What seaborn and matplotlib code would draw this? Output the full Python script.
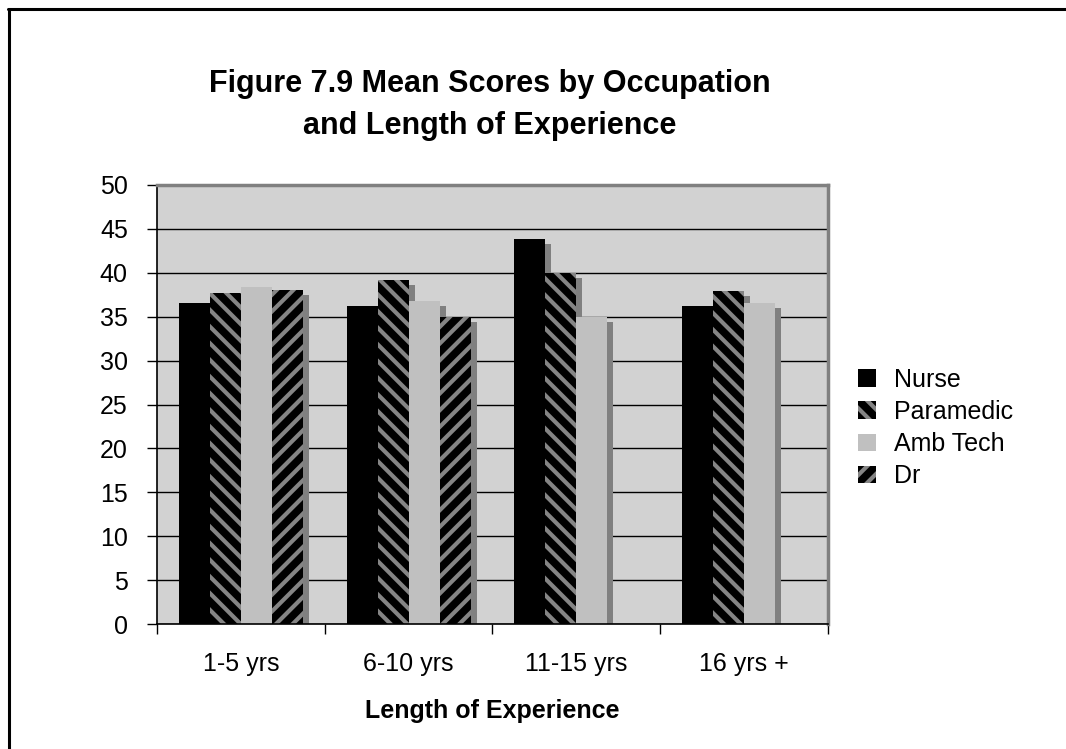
import numpy as np
import pandas as pd
import matplotlib
matplotlib.use("Agg")
import matplotlib.pyplot as plt
import matplotlib.transforms as mtransforms
from matplotlib.patches import Rectangle
from matplotlib.lines import Line2D
import seaborn as sns

categories = ["1-5 yrs", "6-10 yrs", "11-15 yrs", "16 yrs +"]
occupations = ["Nurse", "Paramedic", "Amb Tech", "Dr"]
nurse = [36.6, 36.2, 43.8, 36.2]
paramedic = [37.7, 39.2, 40.0, 37.9]
amb_tech = [38.4, 36.8, 35.0, 36.6]
dr = [38.0, 35.0, np.nan, np.nan]
y_ticks = [0, 5, 10, 15, 20, 25, 30, 35, 40, 45, 50]

rows = []
for occ, vals in zip(occupations, [nurse, paramedic, amb_tech, dr]):
    for cat, v in zip(categories, vals):
        rows.append({"Experience": cat, "Occupation": occ, "Score": v})
df = pd.DataFrame(rows).dropna()

sns.set_theme(style="white")
plt.rcParams["font.family"] = ["Liberation Sans", "DejaVu Sans"]
plt.rcParams["hatch.linewidth"] = 3.0
for k in ["text.color", "axes.labelcolor", "xtick.color", "ytick.color"]:
    plt.rcParams[k] = "black"

fig = plt.figure(figsize=(10.66, 7.49), dpi=100)
ax = fig.add_axes([157 / 1066, 1 - 624 / 749, (828 - 157) / 1066, (624 - 185) / 749])

palette = {"Nurse": "#000000", "Paramedic": "#000000", "Amb Tech": "#c0c0c0", "Dr": "#000000"}
sns.barplot(data=df, x="Experience", y="Score", hue="Occupation",
            order=categories, hue_order=occupations, palette=palette,
            width=0.74, errorbar=None, legend=False, saturation=1,
            linewidth=0, ax=ax)

ax.set_facecolor("#d2d2d2")
ax.set_ylim(0, 50)
ax.set_xlim(-0.5, len(categories) - 0.5)
ax.set_axisbelow(True)

hatches = {"Paramedic": "\\\\", "Dr": "//"}
shadow_tr = ax.transData + mtransforms.ScaledTranslation(0.06, -0.05, fig.dpi_scale_trans)
handles = []
for occ, cont in zip(occupations, ax.containers):
    for p in cont.patches:
        p.set_zorder(2)
        p.set_linewidth(0)
        if occ in hatches:
            p.set_hatch(hatches[occ])
            p.set_edgecolor("#858585")
        h = p.get_height()
        if np.isfinite(h) and h > 0:
            sh = Rectangle((p.get_x(), p.get_y()), p.get_width(), h,
                           transform=shadow_tr, facecolor="#808080",
                           edgecolor="none", zorder=1)
            ax.add_patch(sh)
    handles.append(cont.patches[0])

ax.yaxis.grid(True, color="#000000", linewidth=1.0, zorder=0)
ax.set_yticks(y_ticks)
ax.set_yticklabels([str(t) for t in y_ticks], fontsize=18)

bounds = np.arange(len(categories) + 1) - 0.5
ax.set_xticks(bounds)
ax.set_xticklabels([""] * len(bounds))
ax.set_xticks(np.arange(len(categories)), minor=True)
ax.set_xticklabels(categories, minor=True, fontsize=18)
ax.tick_params(axis="x", which="major", length=7, width=1, color="black", direction="out", bottom=True)
ax.tick_params(axis="x", which="minor", length=0, pad=20)
ax.tick_params(axis="y", length=7, width=1, color="black", direction="out", left=True, pad=14)

for side in ["top", "right"]:
    ax.spines[side].set_color("#808080")
    ax.spines[side].set_linewidth(2.5)
for side in ["left", "bottom"]:
    ax.spines[side].set_color("#000000")
    ax.spines[side].set_linewidth(1.2)

ax.set_xlabel("Length of Experience", fontsize=18, fontweight="bold", labelpad=17)
ax.set_ylabel("")

fig.text(490 / 1066, 1 - 105 / 749, "Figure 7.9 Mean Scores by Occupation\nand Length of Experience",
         ha="center", va="center", fontsize=22, fontweight="bold", linespacing=1.5)

leg = fig.legend(handles, occupations, loc="center left",
                 bbox_to_anchor=(858 / 1066, 1 - 428 / 749), frameon=False,
                 fontsize=18, handlelength=0.7, handleheight=0.7,
                 handletextpad=0.75, labelspacing=0.33, borderpad=0, borderaxespad=0)

fig.add_artist(Line2D([8 / 1066, 1.0], [1 - 9 / 749, 1 - 9 / 749], transform=fig.transFigure,
                      color="black", linewidth=2.2))
fig.add_artist(Line2D([9 / 1066, 9 / 1066], [1 - 9 / 749, 0.0], transform=fig.transFigure,
                      color="black", linewidth=2.2))

fig.savefig("out.png", dpi=100, facecolor="white")
